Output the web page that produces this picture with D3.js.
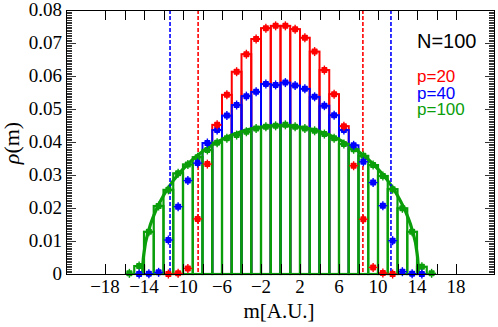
<!DOCTYPE html>
<html>
<head>
<meta charset="utf-8">
<script src="https://cdn.jsdelivr.net/npm/d3@7"></script>
<style>
  body { margin: 0; background: #fff; }
  svg { display: block; }
</style>
</head>
<body>
<div id="chart"></div>
<script>
// bin centres (width 1)
var centers = d3.range(-15.5, 16, 1);

// p=20 (red), p=40 (blue), p=100 (green) histograms, null = no point
var red = [null, null, null, null, 0.0000, 0.0002, 0.0017, 0.0167, 0.0333, 0.0452, 0.0543, 0.0613, 0.0666, 0.0712, 0.0745, 0.0752,
           0.0752, 0.0742, 0.0716, 0.0674, 0.0618, 0.0545, 0.0448, 0.0328, 0.0166, 0.0020, 0.0003, 0.0000, null, null, null, null];
var blue = [null, 0.0000, 0.0001, 0.0005, 0.0103, 0.0204, 0.0283, 0.0336, 0.0397, 0.0436, 0.0480, 0.0512, 0.0539, 0.0552, 0.0576, 0.0573,
            0.0580, 0.0571, 0.0561, 0.0537, 0.0510, 0.0481, 0.0436, 0.0390, 0.0340, 0.0277, 0.0207, 0.0101, 0.0007, 0.0001, 0.0000, null];
var green = [0.0002, 0.0024, 0.0128, 0.0206, 0.0255, 0.0305, 0.0332, 0.0354, 0.0376, 0.0398, 0.0411, 0.0421, 0.0431, 0.0441, 0.0446, 0.0449,
             0.0452, 0.0446, 0.0441, 0.0434, 0.0424, 0.0411, 0.0394, 0.0378, 0.0358, 0.0330, 0.0297, 0.0257, 0.0199, 0.0128, 0.0022, 0.0002];

// range of bins drawn as boxes
var redBoxes = [-7, 7];
var blueBoxes = [-8, 8];
var greenBoxes = [-15, 15];

// theory curve for p=100
var curveM = [-14.14, -14.1, -14, -13.5, -13, -12, -11, -10, -9, -8, -7, -6, -5, -4, -3, -2, -1, 0,
              1, 2, 3, 4, 5, 6, 7, 8, 9, 10, 11, 12, 13, 13.5, 14, 14.1, 14.14];
var curveRho = [0, 0.0035, 0.0064, 0.0134, 0.0177, 0.0238, 0.0283, 0.0318, 0.0347, 0.0371, 0.0391, 0.0407, 0.0421, 0.0432, 0.0440, 0.0445, 0.0449, 0.0450,
                0.0449, 0.0445, 0.0440, 0.0432, 0.0421, 0.0407, 0.0391, 0.0371, 0.0347, 0.0318, 0.0283, 0.0238, 0.0177, 0.0134, 0.0064, 0.0035, 0];

// band edges (dashed lines)
var redEdges = [-8.45, 8.45];
var blueEdges = [-11.33, 11.33];

var xTicks = d3.range(-18, 19, 2);
var xLabels = [-18, -14, -10, -6, -2, 2, 6, 10, 14, 18];
var yLabels = [0, 0.01, 0.02, 0.03, 0.04, 0.05, 0.06, 0.07, 0.08];

var legend = [
  { text: "p=20", color: "#ff0000" },
  { text: "p=40", color: "#0000ff" },
  { text: "p=100", color: "#0a9e0a" }
];

var width = 498, height = 327;
var pLeft = 66, pRight = 495, pTop = 10, pBottom = 274;

var x = d3.scaleLinear().domain([-22, 22]).range([pLeft, pRight]);
var y = d3.scaleLinear().domain([0, 0.08]).range([pBottom, pTop]);

var svg = d3.select("#chart").append("svg")
  .attr("width", width)
  .attr("height", height);

var plot = svg.append("g");

function boxes(vals, range, color, w) {
  var d = centers.map(function(c, i) { return { c: c, v: vals[i] }; })
    .filter(function(e) { return e.v != null && e.c > range[0] && e.c < range[1]; });
  plot.append("g").selectAll("rect")
    .data(d).enter().append("rect")
    .attr("x", function(e) { return x(e.c - 0.5); })
    .attr("width", function(e) { return x(e.c + 0.5) - x(e.c - 0.5); })
    .attr("y", function(e) { return y(e.v); })
    .attr("height", function(e) { return y(0) - y(e.v); })
    .attr("fill", "none")
    .attr("stroke", color)
    .attr("stroke-width", w);
}

boxes(red, redBoxes, "#ff0000", 2);
boxes(blue, blueBoxes, "#0000ff", 2);
boxes(green, greenBoxes, "#0a9e0a", 2.2);

// theory curve
var line = d3.line()
  .x(function(d) { return x(d[0]); })
  .y(function(d) { return y(d[1]); })
  .curve(d3.curveMonotoneX);

plot.append("path")
  .datum(curveM.map(function(m, i) { return [m, curveRho[i]]; }))
  .attr("d", line)
  .attr("fill", "none")
  .attr("stroke", "#0a9e0a")
  .attr("stroke-width", 3.2);

// dashed band edges
function edges(vals, color) {
  plot.append("g").selectAll("line")
    .data(vals).enter().append("line")
    .attr("x1", function(d) { return x(d); })
    .attr("x2", function(d) { return x(d); })
    .attr("y1", pTop)
    .attr("y2", pBottom)
    .attr("stroke", color)
    .attr("stroke-width", 1.6)
    .attr("stroke-dasharray", "4,2");
}
edges(redEdges, "#ff0000");
edges(blueEdges, "#0000ff");

// points with small error bars
function points(vals, color) {
  var d = centers.map(function(c, i) { return { c: c, v: vals[i] }; })
    .filter(function(e) { return e.v != null; });
  var g = plot.append("g").selectAll("g")
    .data(d).enter().append("g")
    .attr("transform", function(e) { return "translate(" + x(e.c) + "," + y(e.v) + ")"; });
  g.append("line").attr("x1", -4.5).attr("x2", 4.5).attr("y1", 0).attr("y2", 0)
    .attr("stroke", color).attr("stroke-width", 1.4);
  g.append("line").attr("x1", 0).attr("x2", 0).attr("y1", -4.5).attr("y2", 4.5)
    .attr("stroke", color).attr("stroke-width", 1.4);
  g.append("rect").attr("x", -3).attr("y", -3).attr("width", 6).attr("height", 6)
    .attr("rx", 0.8).attr("fill", color);
}
points(green, "#0a9e0a");
points(blue, "#0000ff");
points(red, "#ff0000");

// frame
svg.append("rect")
  .attr("x", pLeft + 0.5).attr("y", pTop + 0.5)
  .attr("width", pRight - pLeft - 1).attr("height", pBottom - pTop)
  .attr("fill", "none").attr("stroke", "#000").attr("stroke-width", 1);

// x ticks, top and bottom
var axes = svg.append("g").attr("stroke", "#000").attr("stroke-width", 1);
xTicks.forEach(function(t) {
  var xx = Math.round(x(t)) + 0.5;
  axes.append("line").attr("x1", xx).attr("x2", xx).attr("y1", pTop).attr("y2", pTop + 10);
  axes.append("line").attr("x1", xx).attr("x2", xx).attr("y1", pBottom).attr("y2", pBottom - 10);
});

// y ticks, left and right (major + dense minor)
d3.range(0, 161).forEach(function(k) {
  var v = k * 0.0005;
  var yy = Math.round(y(v)) + 0.5;
  var len = (k % 20 === 0) ? 10 : 6;
  axes.append("line").attr("x1", pLeft).attr("x2", pLeft + len).attr("y1", yy).attr("y2", yy)
    .attr("stroke-width", 0.8);
  axes.append("line").attr("x1", pRight).attr("x2", pRight - len).attr("y1", yy).attr("y2", yy)
    .attr("stroke-width", 0.8);
});

var serif = "'Liberation Serif', 'Times New Roman', serif";
var sans = "'Liberation Sans', Arial, sans-serif";

svg.append("g").selectAll("text")
  .data(xLabels).enter().append("text")
  .attr("x", function(d) { return x(d); })
  .attr("y", 293)
  .attr("text-anchor", "middle")
  .attr("font-family", serif)
  .attr("font-size", "19px")
  .text(function(d) { return d < 0 ? "\u2212" + Math.abs(d) : d; });

svg.append("g").selectAll("text")
  .data(yLabels).enter().append("text")
  .attr("x", 62)
  .attr("y", function(d) { return y(d); })
  .attr("dy", "0.33em")
  .attr("text-anchor", "end")
  .attr("font-family", serif)
  .attr("font-size", "19px")
  .text(function(d) { return d === 0 ? "0" : d3.format(".2f")(d); });

svg.append("text")
  .attr("x", 279).attr("y", 318)
  .attr("text-anchor", "middle")
  .attr("font-family", serif)
  .attr("font-size", "21px")
  .text("m[A.U.]");

svg.append("text")
  .attr("transform", "translate(19,143) rotate(-90)")
  .attr("text-anchor", "middle")
  .attr("font-family", serif)
  .attr("font-size", "22px")
  .html("<tspan font-style='italic'>\u03c1</tspan>(m)");

// legend
svg.append("text")
  .attr("x", 417).attr("y", 48)
  .attr("font-family", sans)
  .attr("font-size", "20px")
  .text("N=100");

svg.append("g").selectAll("text")
  .data(legend).enter().append("text")
  .attr("x", 417)
  .attr("y", function(d, i) { return 82 + i * 16.5; })
  .attr("font-family", sans)
  .attr("font-size", "17px")
  .attr("fill", function(d) { return d.color; })
  .text(function(d) { return d.text; });
</script>
</body>
</html>
